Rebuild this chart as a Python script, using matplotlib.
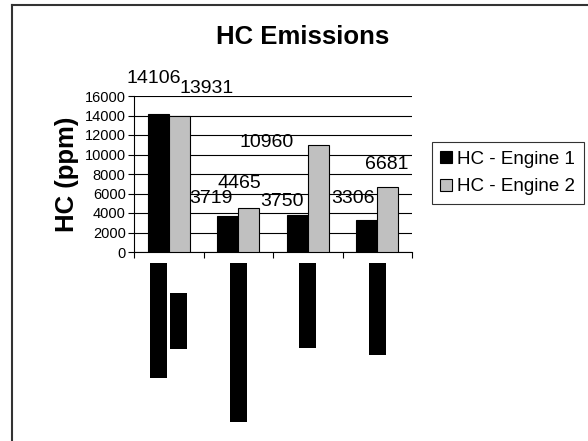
import numpy as np
import matplotlib.pyplot as plt
from matplotlib.patches import Rectangle
from matplotlib.lines import Line2D
from matplotlib.transforms import blended_transform_factory

plt.rcParams['font.family'] = ['Liberation Sans', 'DejaVu Sans']

# Data
categories = ['1', '2', '3', '4']
engine1 = [14106, 3719, 3750, 3306]
engine2 = [13931, 4465, 10960, 6681]
series_names = ['HC - Engine 1', 'HC - Engine 2']

# Label nudges (points) so the value labels sit where they do in the original
off1 = [(-3, 20), (-12, 6), (-11, 4), (-10, 9)]
off2 = [(20, 14), (-7, 12), (-37, -4), (-1, 10)]

# Category labels are blacked out in the original: box lengths in pixels
redact = [[(-0.147, 115), (0.14, 56, 30)], [(0.0, 159)], [(0.0, 85)], [(0.0, 92)]]

fig = plt.figure(figsize=(5.88, 4.41), dpi=100)
ax = fig.add_axes([134 / 588, 1 - 252 / 441, 278 / 588, 156 / 441])

x = np.arange(len(categories))
w = 0.3
b1 = ax.bar(x - w / 2, engine1, w, color='black', edgecolor='black', linewidth=0.8,
            label=series_names[0], zorder=3)
b2 = ax.bar(x + w / 2, engine2, w, color='#c0c0c0', edgecolor='black', linewidth=0.8,
            label=series_names[1], zorder=3)

for bar, v, o in zip(b1, engine1, off1):
    ax.annotate(str(v), (bar.get_x() + bar.get_width() / 2, v), xytext=o,
                textcoords='offset points', ha='center', va='bottom', fontsize=14)
for bar, v, o in zip(b2, engine2, off2):
    ax.annotate(str(v), (bar.get_x() + bar.get_width() / 2, v), xytext=o,
                textcoords='offset points', ha='center', va='bottom', fontsize=14)

ax.set_xlim(-0.5, 3.5)
ax.set_ylim(0, 16000)
ax.set_yticks(np.arange(0, 16001, 2000))
ax.set_xticks(np.arange(-0.5, 3.6, 1))
ax.set_xticklabels([])
ax.tick_params(axis='y', labelsize=10.5, length=4, width=0.8, direction='out', pad=2)
ax.tick_params(axis='x', length=4, width=0.8, direction='out')
ax.grid(axis='y', color='black', linewidth=0.8, zorder=0)
ax.set_axisbelow(True)
for s in ['top', 'right']:
    ax.spines[s].set_visible(False)
ax.spines['left'].set_linewidth(0.8)
ax.spines['bottom'].set_linewidth(0.8)

ax.set_ylabel('HC (ppm)', fontsize=18.5, fontweight='bold', labelpad=4)
fig.text(303 / 588, 1 - 37 / 441, 'HC Emissions', fontsize=18.5, fontweight='bold',
         ha='center', va='center')

# blacked-out category labels
tr = blended_transform_factory(ax.transData, fig.transFigure)
bw = 17 / 69.5
for i, boxes in enumerate(redact):
    for box in boxes:
        dx, length = box[0], box[1]
        top = 263 + (box[2] if len(box) > 2 else 0)
        r = Rectangle((x[i] + dx - bw / 2, 1 - (top + length) / 441), bw, length / 441,
                      transform=tr, facecolor='black', edgecolor='none', clip_on=False)
        fig.add_artist(r)

leg = ax.legend(loc='center left', bbox_to_anchor=(432 / 588, 1 - 173 / 441),
                bbox_transform=fig.transFigure, fontsize=13.5, frameon=True,
                fancybox=False, edgecolor='black', handlelength=0.6, handleheight=0.6,
                handletextpad=0.3, borderpad=0.45, labelspacing=0.55, borderaxespad=0)
leg.get_frame().set_linewidth(0.8)

# outer chart-area border (left and top edges visible)
fig.add_artist(Line2D([12 / 588, 12 / 588], [0, 1 - 5 / 441], transform=fig.transFigure,
                      color='#333333', linewidth=1.5))
fig.add_artist(Line2D([12 / 588, 1], [1 - 5 / 441, 1 - 5 / 441], transform=fig.transFigure,
                      color='#333333', linewidth=1.5))

fig.savefig('out.png', dpi=100)
